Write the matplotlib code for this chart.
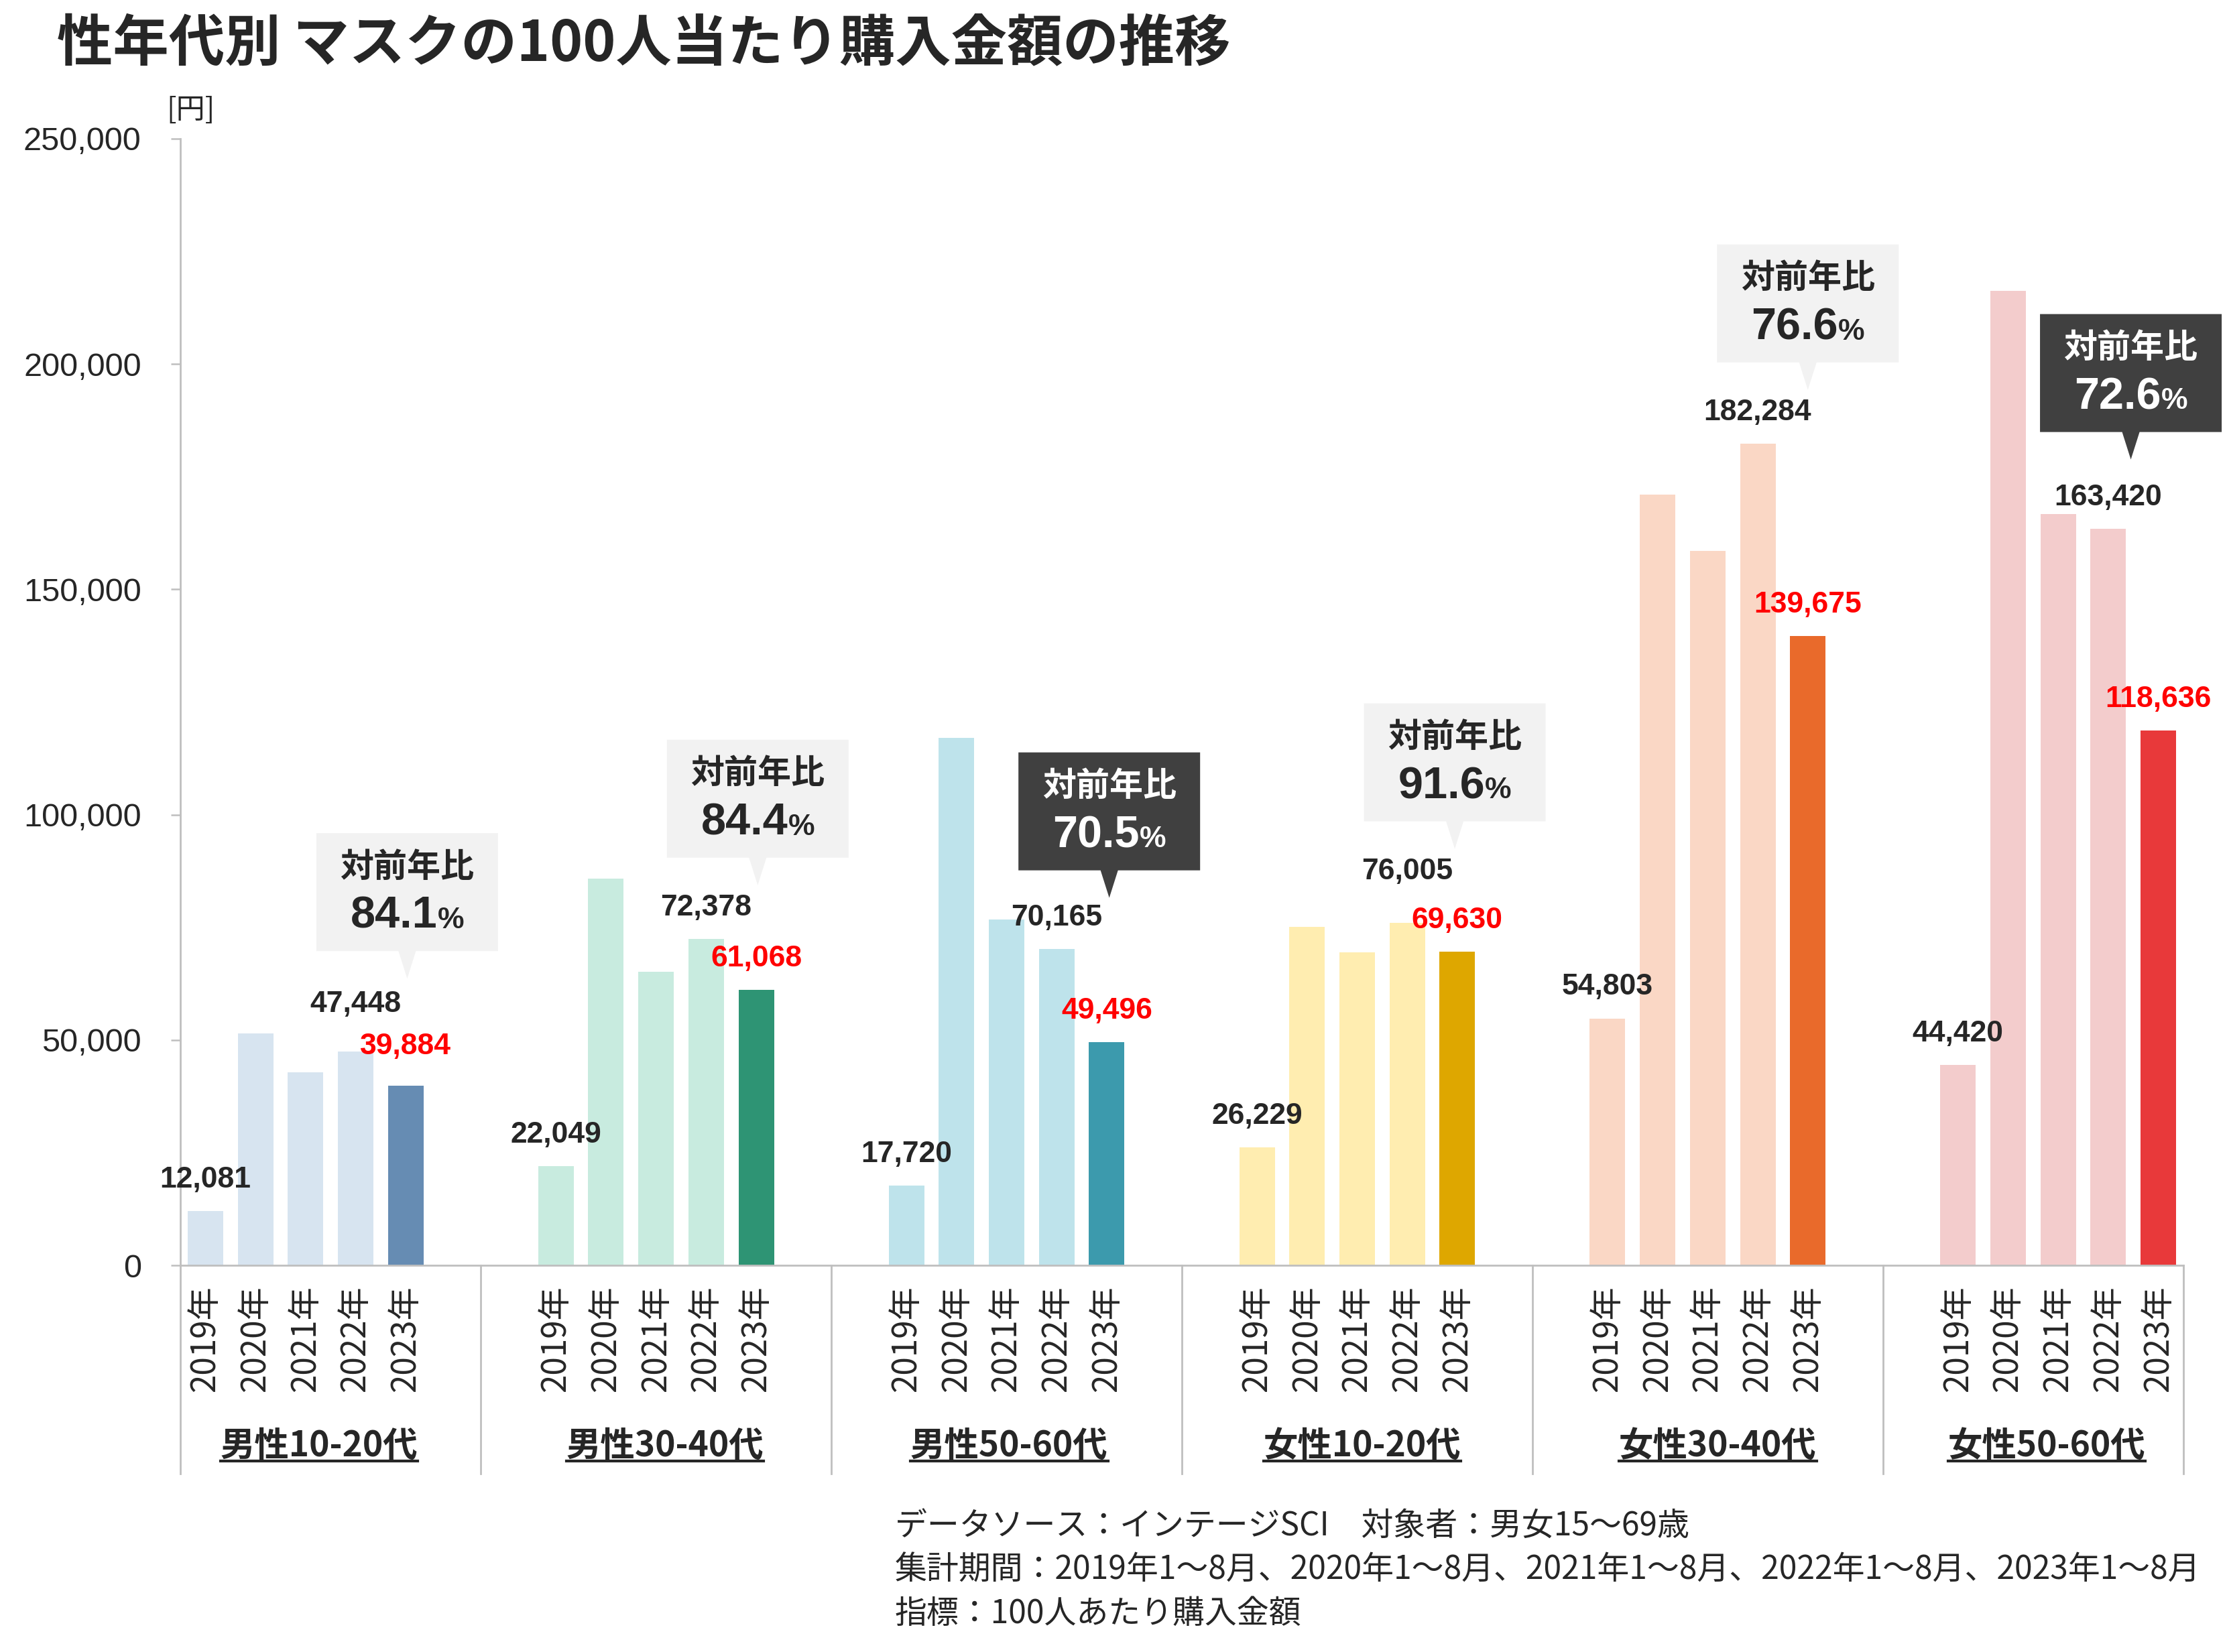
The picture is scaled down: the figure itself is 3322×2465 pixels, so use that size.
import matplotlib
matplotlib.use('Agg')
import matplotlib.pyplot as plt
from matplotlib.patches import Polygon
from matplotlib.lines import Line2D
from matplotlib.ticker import FuncFormatter
from matplotlib.transforms import IdentityTransform, blended_transform_factory

# ---------------- data ----------------
categories = ['男性10-20代', '男性30-40代', '男性50-60代', '女性10-20代', '女性30-40代', '女性50-60代']
years = ['2019年', '2020年', '2021年', '2022年', '2023年']
male_10_20 = [12081, 51400, 42900, 47448, 39884]
male_30_40 = [22049, 85800, 65100, 72378, 61068]
male_50_60 = [17720, 117100, 76700, 70165, 49496]
female_10_20 = [26229, 75100, 69500, 76005, 69630]
female_30_40 = [54803, 171100, 158600, 182284, 139675]
female_50_60 = [44420, 216300, 166700, 163420, 118636]
yoy_ratio = ['84.1', '84.4', '70.5', '91.6', '76.6', '72.6']
y_ticks = [0, 50000, 100000, 150000, 200000, 250000]

title = '性年代別 マスクの100人当たり購入金額の推移'
unit_label = '[円]'
footnotes = ['データソース：インテージSCI\u3000対象者：男女15～69歳',
             '集計期間：2019年1～8月、2020年1～8月、2021年1～8月、2022年1～8月、2023年1～8月',
             '指標：100人あたり購入金額']

series = [male_10_20, male_30_40, male_50_60, female_10_20, female_30_40, female_50_60]
light_colors = ['#D7E4F0', '#C8EBDF', '#BEE3EB', '#FFEDB0', '#FAD7C5', '#F3CCCC']
dark_colors = ['#668CB3', '#2E9474', '#3C9AAD', '#DEA700', '#E96A2B', '#E8393A']
highlight = [False, False, True, False, False, True]

# ---------------- style ----------------
JP = 'Noto Sans CJK JP'
NUM = ['Liberation Sans', JP]
plt.rcParams['font.family'] = [JP, 'DejaVu Sans']
DARK = '#262626'
GRAY = '#BFBFBF'
RED = '#FF0000'

W, H = 3323, 2465
fig = plt.figure(figsize=(W / 100, H / 100), dpi=100)
ax = fig.add_axes([269 / W, 1 - 1888 / H, (3257 - 269) / W, (1888 - 207) / H])

slot = 7
xs, heights, colors, xlabels = [], [], [], []
for g, vals in enumerate(series):
    for j, v in enumerate(vals):
        xs.append(g * slot + j)
        heights.append(v)
        colors.append(dark_colors[g] if j == len(vals) - 1 else light_colors[g])
        xlabels.append(years[j])

ax.bar(xs, heights, width=0.71, color=colors, zorder=2)
ax.set_xlim(-0.5, (len(series) - 1) * slot + 4.5)
ax.set_ylim(y_ticks[0], y_ticks[-1])
ax.set_yticks(y_ticks)
ax.yaxis.set_major_formatter(FuncFormatter(lambda v, p: f'{int(v):,}'))
ax.set_xticks(xs)
ax.set_xticklabels(xlabels, rotation=90, fontsize=35.5, color=DARK)
ax.tick_params(axis='x', length=0, pad=22)
ax.tick_params(axis='y', length=10, width=1.8, color=GRAY, pad=32, labelsize=35, labelcolor=DARK)
for lbl in ax.get_yticklabels():
    lbl.set_fontfamily('Liberation Sans')
for s in ['top', 'right']:
    ax.spines[s].set_visible(False)
for s in ['left', 'bottom']:
    ax.spines[s].set_color(GRAY)
    ax.spines[s].set_linewidth(2)

trans = blended_transform_factory(ax.transData, ax.transAxes)
bounds = [-0.5] + [g * slot + 5.5 for g in range(len(series) - 1)] + [(len(series) - 1) * slot + 4.5]
for xb in bounds:
    ax.add_line(Line2D([xb, xb], [0, -0.185], transform=trans, color=GRAY, lw=2, clip_on=False))

cat_shift = [0.27, 0.18, 0.05, 0.1, 0.2, -0.23]
cat_texts = []
for g, cat in enumerate(categories):
    t = ax.text(g * slot + 2 + cat_shift[g], -0.16, cat, transform=trans, ha='center', va='center',
                fontsize=37, weight='bold', color=DARK)
    cat_texts.append(t)

# value labels
base_off = 33.5
special_off = {(0, 3): 51, (0, 4): 42, (3, 3): 55}
label_center_px = {}
for g, vals in enumerate(series):
    for j in (0, 3, 4):
        v = vals[j]
        off = special_off.get((g, j), base_off)
        ax.annotate(f'{v:,}', xy=(g * slot + j, v), xytext=(0, off), textcoords='offset points',
                    ha='center', va='center', fontsize=32, weight='bold',
                    color=RED if j == 4 else DARK, family=NUM, zorder=5)
        label_center_px[(g, j)] = ax.transData.transform((g * slot + j, v))[1] + off * 100 / 72

fig.canvas.draw()
renderer = fig.canvas.get_renderer()
ident = IdentityTransform()

# callouts
tip_gap = [38, 34, 30, 34, 34, 57]
shift = [0.03, 0.03, 0.05, -0.05, 0, -0.55]
bw, bh, ph, base = 271, 176, 41, 26
for g in range(len(series)):
    tx = ax.transData.transform((g * slot + 4 + shift[g], 0))[0]
    ty = label_center_px[(g, 3)] + tip_gap[g]
    B = ty + ph
    T = B + bh
    L, R = tx - bw / 2, tx + bw / 2
    fc = '#404040' if highlight[g] else '#F2F2F2'
    tc = 'white' if highlight[g] else DARK
    poly = Polygon([(L, T), (R, T), (R, B), (tx + base / 2, B), (tx, ty), (tx - base / 2, B), (L, B)],
                   closed=True, transform=ident, facecolor=fc, edgecolor='none', zorder=6)
    fig.add_artist(poly)
    fig.text(tx, T - 0.29 * bh, '対前年比', transform=ident, ha='center', va='center',
             fontsize=36, weight='bold', color=tc, zorder=7)
    t_num = fig.text(0, 0, yoy_ratio[g], transform=ident, ha='left', va='baseline',
                     fontsize=48, weight='bold', color=tc, family=NUM, zorder=7)
    t_pct = fig.text(0, 0, '%', transform=ident, ha='left', va='baseline',
                     fontsize=32, weight='bold', color=tc, family=NUM, zorder=7)
    w1 = t_num.get_window_extent(renderer).width
    w2 = t_pct.get_window_extent(renderer).width
    start = tx - (w1 + w2) / 2
    yb = T - 0.67 * bh - 0.716 * 48 * 100 / 72 / 2
    t_num.set_position((start, yb))
    t_pct.set_position((start + w1, yb))

# underline category labels
for t in cat_texts:
    bb = t.get_window_extent(renderer)
    yl = bb.y0 + 3
    fig.add_artist(Line2D([bb.x0, bb.x1], [yl, yl], transform=ident, color=DARK, lw=3))

fig.text(85 / W, 1 - 66 / H, title, ha='left', va='center', fontsize=60, weight='bold', color=DARK)
fig.text(248 / W, 1 - 165 / H, unit_label, ha='left', va='center', fontsize=31, color=DARK)
for i, line in enumerate(footnotes):
    fig.text(1335 / W, 1 - (2277 + 65.5 * i) / H, line, ha='left', va='center', fontsize=34.5, color=DARK)

fig.savefig('out.png', dpi=100, facecolor='white')
